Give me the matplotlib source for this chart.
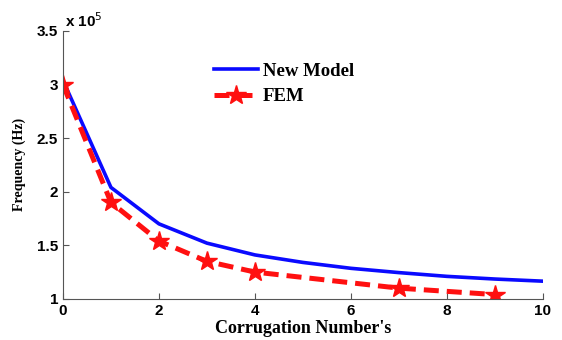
import matplotlib
matplotlib.use("Agg")
import matplotlib.pyplot as plt
from matplotlib.ticker import FuncFormatter

# corrugation number vs frequency (x 1e5 Hz)
model_x = [0, 1, 2, 3, 4, 5, 6, 7, 8, 9, 10]
model_f = [3.04, 2.04, 1.70, 1.52, 1.41, 1.34, 1.285, 1.245, 1.21, 1.185, 1.165]

fem_x = [0, 1, 2, 3, 4, 7, 9]
fem_f = [3.0, 1.90, 1.54, 1.35, 1.25, 1.10, 1.04]

xticks = [0, 2, 4, 6, 8, 10]
yticks = [1, 1.5, 2, 2.5, 3, 3.5]

fig = plt.figure(figsize=(5.62, 3.4), dpi=100)
ax = fig.add_axes([0.112, 0.121, 0.854, 0.788])

ax.plot(model_x, model_f, color="#0a0aff", lw=2.6, label="New Model")
ax.plot(fem_x, fem_f, color="#ff1010", lw=3.6, ls=(0, (3, 1.6)),
        marker="*", ms=15, mec="#ff1010", label="FEM")

ax.set_xlim(0, 10)
ax.set_ylim(1, 3.5)
ax.set_xticks(xticks)
ax.set_yticks(yticks)
ax.yaxis.set_major_formatter(FuncFormatter(lambda v, p: f"{v:g}"))
for s in ["top", "right"]:
    ax.spines[s].set_visible(False)
for s in ["left", "bottom"]:
    ax.spines[s].set_color("#555555")
ax.tick_params(direction="in", length=4, colors="#555555", labelcolor="black")
for lab in ax.get_xticklabels() + ax.get_yticklabels():
    lab.set_family("Liberation Sans")
    lab.set_fontweight("bold")
    lab.set_fontsize(11)

ax.text(0.005, 1.005, r"x 10$^5$", transform=ax.transAxes, ha="left", va="bottom",
        family="Liberation Sans", fontweight="bold", fontsize=11)

ax.set_xlabel("Corrugation Number's", family="Liberation Serif",
              fontweight="bold", fontsize=13, labelpad=2)
ax.set_ylabel("Frequency (Hz)", family="Liberation Serif",
              fontweight="bold", fontsize=10, labelpad=8)

leg = ax.legend(loc="upper left", bbox_to_anchor=(0.3, 0.91), frameon=False,
                handlelength=2.3, prop={"family": "Liberation Serif",
                                        "weight": "bold", "size": 13.5},
                borderaxespad=0, labelspacing=0.45, handletextpad=0.3)

fig.savefig("out.png", dpi=100)
